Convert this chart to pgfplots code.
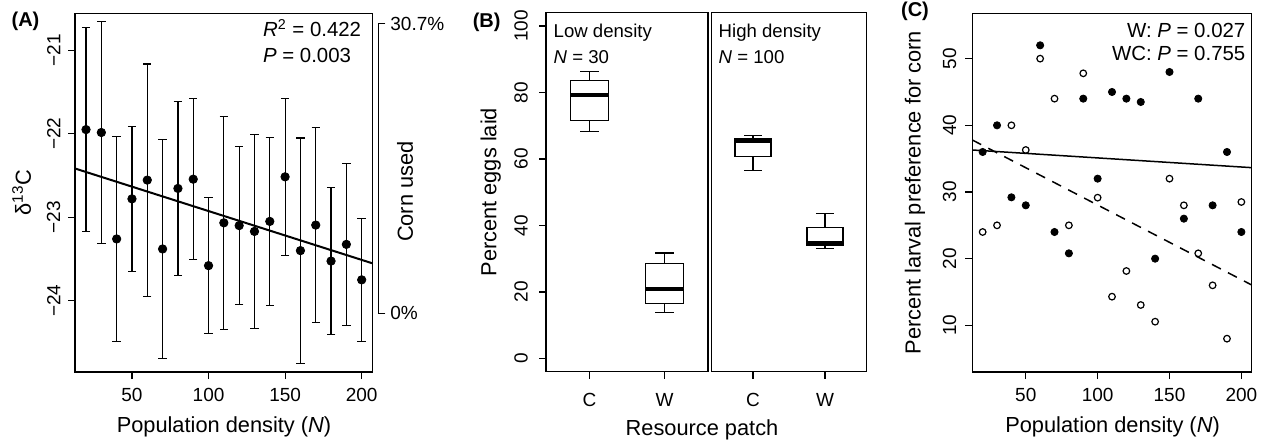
\documentclass[border=0pt]{standalone}
\usepackage{fontspec}
\setmainfont{Liberation Sans}
\usepackage{pgfplots}
\pgfplotsset{compat=1.18}
\usepgfplotslibrary{statistics}

\newcommand{\tickfont}{\fontsize{9.5}{11}\selectfont}
\newcommand{\labfont}{\fontsize{10.9}{13}\selectfont}
\newcommand{\txtfont}{\fontsize{10.2}{12}\selectfont}

\pgfplotsset{
  rpanel/.style={
    scale only axis, anchor=south west, clip=false,
    axis line style={line width=0.7pt},
    tick style={line width=0.6pt, black},
    tick align=outside, major tick length=3.5pt,
    tick pos=left,
    tick label style={font=\tickfont, inner sep=0pt},
    xticklabel style={anchor=north},
    yticklabel style={rotate=90, anchor=south},
    label style={font=\labfont},
    /pgf/number format/assume math mode=true,
  },
  rbox/.style={
    black, line width=0.6pt, fill=white,
    boxplot/every median/.style={line width=2pt},
  },
}

\begin{document}
\begin{tikzpicture}
\path[use as bounding box] (0,0) rectangle (634pt,220.5pt);

% ---------- (A) ----------
\begin{axis}[rpanel, at={(37.5pt,34.5pt)}, width=148.85pt, height=179.35pt,
  xmin=12.8, xmax=207.2, ymin=-24.854, ymax=-20.557,
  xtick={50,100,150,200},
  ytick={-24,-23,-22,-21}, yticklabels={−24,−23,−22,−21},
  xticklabel shift=4.65pt, yticklabel shift=3.65pt,
  xlabel={Population density (\textit{N})},
  xlabel style={at={(axis description cs:0.5005,-0.1524)}, anchor=center},
  ylabel={δ\textsuperscript{13}C},
  ylabel style={at={(axis description cs:-0.179,0.5)}, anchor=center},
]
\addplot[black, only marks, mark=*, mark size=2.1pt,
  error bars/.cd, y dir=both, y explicit,
  error bar style={line width=0.6pt},
  error mark options={rotate=90, line width=0.6pt, mark size=2.1pt}]
coordinates {
  (20,-21.95) +- (0,1.225)
  (30,-21.985) +- (0,1.325)
  (40,-23.26) +- (0,1.23)
  (50,-22.78) +- (0,0.87)
  (60,-22.555) +- (0,1.39)
  (70,-23.38) +- (0,1.315)
  (80,-22.655) +- (0,1.04)
  (90,-22.544) +- (0,0.965)
  (100,-23.58) +- (0,0.815)
  (110,-23.067) +- (0,1.275)
  (120,-23.10) +- (0,0.945)
  (130,-23.17) +- (0,1.16)
  (140,-23.05) +- (0,1.005)
  (150,-22.516) +- (0,0.94)
  (160,-23.40) +- (0,1.35)
  (170,-23.094) +- (0,1.165)
  (180,-23.525) +- (0,0.88)
  (190,-23.325) +- (0,0.97)
  (200,-23.75) +- (0,0.735)
};
\addplot[black, line width=1pt] coordinates {(12.8,-22.416) (207.2,-23.553)};
\node[anchor=base west, font=\txtfont, inner sep=0pt] at (rel axis cs:0.6305,0.9348) {\textit{R}\textsuperscript{2} = 0.422};
\node[anchor=base west, font=\txtfont, inner sep=0pt] at (rel axis cs:0.6305,0.8623) {\textit{P} = 0.003};
\node[rotate=90, font=\labfont] at (rel axis cs:1.1085,0.5027) {Corn used};
\end{axis}

% right-hand corn axis of (A)
\begin{axis}[scale only axis, at={(189.15pt,63.85pt)}, anchor=south east,
  width=0.5pt, height=144.9pt, xmin=0, xmax=1, ymin=0, ymax=30.7,
  axis x line=none, axis y line=right,
  y axis line style={-, line width=0.7pt},
  ytick={0,30.7}, yticklabels={0\%,30.7\%},
  tick align=outside, major tick length=3.5pt,
  tick style={line width=0.6pt, black},
  yticklabel style={anchor=west, inner sep=0pt, font=\tickfont},
  yticklabel shift=2.35pt,
]
\end{axis}

% ---------- (B) low density ----------
\begin{axis}[rpanel, at={(273pt,34.65pt)}, width=81pt, height=179.5pt,
  xmin=0.42, xmax=2.58, ymin=-4, ymax=104,
  xtick={1,2}, xticklabels={C,W},
  ytick={0,20,40,60,80,100},
  xticklabel shift=7pt, yticklabel shift=5.35pt,
  boxplot/draw direction=y,
  xlabel={Resource patch},
  xlabel style={at={(axis description cs:0.963,-0.1624)}, anchor=center},
  ylabel={Percent eggs laid},
  ylabel style={at={(axis description cs:-0.3414,0.5)}, anchor=center},
]
\addplot[rbox, boxplot prepared={lower whisker=68.3, lower quartile=71.5, median=79.3,
  upper quartile=83.6, upper whisker=86.3, draw position=1,
  box extend=0.5, whisker extend=0.25}] coordinates {};
\addplot[rbox, boxplot prepared={lower whisker=13.8, lower quartile=16.4, median=20.9,
  upper quartile=28.5, upper whisker=31.7, draw position=2,
  box extend=0.5, whisker extend=0.25}] coordinates {};
\node[anchor=base west, font=\fontsize{9.3}{11}\selectfont, inner sep=0pt] at (rel axis cs:0.045,0.9315) {Low density};
\node[anchor=base west, font=\fontsize{9.3}{11}\selectfont, inner sep=0pt] at (rel axis cs:0.045,0.8599) {\textit{N} = 30};
\end{axis}

% ---------- (B) high density ----------
\begin{axis}[rpanel, at={(355.65pt,34.65pt)}, width=77.7pt, height=179.5pt,
  xmin=0.42, xmax=2.58, ymin=-4, ymax=104,
  xtick={1,2}, xticklabels={C,W}, ytick=\empty,
  xticklabel shift=7pt,
  boxplot/draw direction=y,
]
\addplot[rbox, boxplot prepared={lower whisker=56.5, lower quartile=60.7, median=65.4,
  upper quartile=66.2, upper whisker=67.1, draw position=1,
  box extend=0.5, whisker extend=0.25}] coordinates {};
\addplot[rbox, boxplot prepared={lower whisker=33.1, lower quartile=34.0, median=34.8,
  upper quartile=39.5, upper whisker=43.7, draw position=2,
  box extend=0.5, whisker extend=0.25}] coordinates {};
\node[anchor=base west, font=\fontsize{9.3}{11}\selectfont, inner sep=0pt] at (rel axis cs:0.045,0.9315) {High density};
\node[anchor=base west, font=\fontsize{9.3}{11}\selectfont, inner sep=0pt] at (rel axis cs:0.045,0.8599) {\textit{N} = 100};
\end{axis}

% ---------- (C) ----------
\begin{axis}[rpanel, at={(486.15pt,34.5pt)}, width=139.7pt, height=179.35pt,
  xmin=12.8, xmax=207.2, ymin=3.0, ymax=56.8,
  xtick={50,100,150,200}, ytick={10,20,30,40,50},
  xticklabel shift=4.65pt, yticklabel shift=4.3pt,
  xlabel={Population density (\textit{N})},
  xlabel style={at={(axis description cs:0.502,-0.1525)}, anchor=center},
  ylabel={Percent larval preference for corn},
  ylabel style={at={(axis description cs:-0.2051,0.5)}, anchor=center},
]
% W (filled)
\addplot[black, only marks, mark=*, mark size=1.8pt] coordinates {
  (20,36) (30,40) (40,29.2) (50,28) (60,52) (70,24) (80,20.8) (90,44)
  (100,32) (110,45) (120,44) (130,43.5) (140,20) (150,48) (160,26)
  (170,44) (180,28) (190,36) (200,24)
};
% WC (open)
\addplot[black, only marks, mark=o, mark size=1.65pt, mark options={line width=0.6pt}] coordinates {
  (20,24) (30,25) (40,40) (50,36.3) (60,50) (70,44) (80,25) (90,47.8)
  (100,29.15) (110,14.3) (120,18.15) (130,13.05) (140,10.55) (150,32)
  (160,28) (170,20.8) (180,16) (190,8) (200,28.5)
};
\addplot[black, line width=0.75pt] coordinates {(12.8,36.3) (207.2,33.65)};
\addplot[black, line width=0.75pt, dash pattern=on 5pt off 4pt] coordinates {(12.8,37.8) (207.2,16.05)};
\node[anchor=base east, font=\txtfont, inner sep=0pt] at (rel axis cs:0.9785,0.9331) {W: \textit{P} = 0.027};
\node[anchor=base east, font=\txtfont, inner sep=0pt] at (rel axis cs:0.9785,0.8679) {WC: \textit{P} = 0.755};
\end{axis}

% panel letters
\node[font=\bfseries\fontsize{10}{12}\selectfont] at (12.75pt,210pt) {(A)};
\node[font=\bfseries\fontsize{10}{12}\selectfont] at (243.35pt,209.25pt) {(B)};
\node[font=\bfseries\fontsize{10}{12}\selectfont] at (457.5pt,215pt) {(C)};
\end{tikzpicture}
\end{document}
